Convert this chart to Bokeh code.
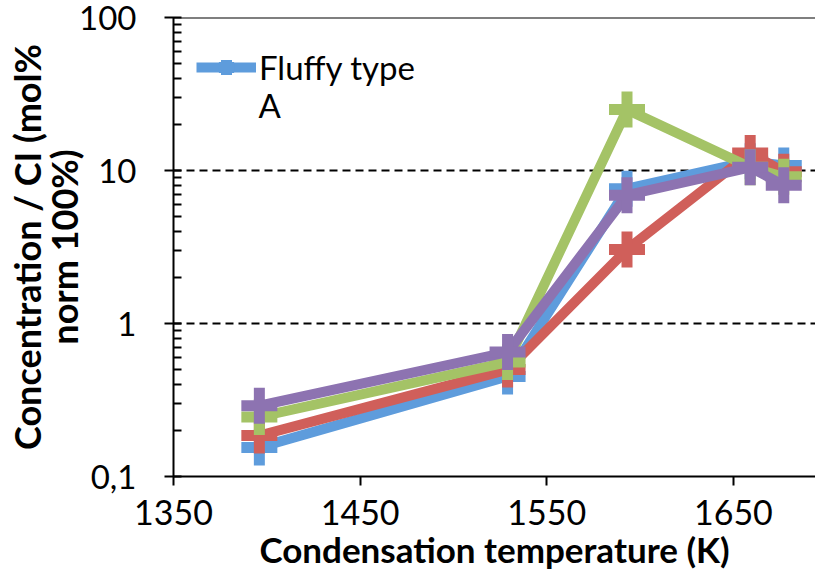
from bokeh.plotting import figure
from bokeh.models import FixedTicker, CustomJSTickFormatter, Legend, LegendItem, Span, Label
from bokeh.embed import file_html
from bokeh.resources import INLINE

temps = [1396, 1529, 1593, 1659, 1677]
blue_vals = [0.155, 0.45, 7.6, 11.5, 10.8]
red_vals = [0.185, 0.50, 3.05, 13.0, 9.8]
green_vals = [0.245, 0.56, 25.0, 10.5, 9.1]
purple_vals = [0.29, 0.65, 6.9, 10.5, 8.0]

x_ticks = [1350, 1450, 1550, 1650]
y_ticks = [0.1, 1, 10, 100]
y_minor = [0.2, 0.3, 0.4, 0.5, 0.6, 0.7, 0.8, 0.9,
           2, 3, 4, 5, 6, 7, 8, 9,
           20, 30, 40, 50, 60, 70, 80, 90]

series = [
    ("blue", blue_vals, "#5e9cdc"),
    ("red", red_vals, "#d05f5a"),
    ("green", green_vals, "#a4c366"),
    ("purple", purple_vals, "#8d73b1"),
]

FONT = "Lato"

p = figure(width=815, height=582, x_range=(1350, 1694), y_range=(0.1, 100),
           y_axis_type="log", output_backend="svg", toolbar_location=None,
           min_border_left=173, min_border_top=17, min_border_bottom=106,
           min_border_right=0)
p.outline_line_color = None
p.background_fill_color = "white"

renderers = {}
for name, vals, col in series:
    l = p.line(temps, vals, line_color=col, line_width=10, line_join="round")
    s = p.scatter(temps, vals, marker="cross", size=36, line_width=11,
                  line_color=col)
    renderers[name] = [l, s]

# grid
p.xgrid.grid_line_color = None
p.ygrid.ticker = FixedTicker(ticks=y_ticks)
p.ygrid.grid_line_color = "black"
p.ygrid.grid_line_width = 2
p.ygrid.grid_line_dash = "8 5"
p.add_layout(Span(location=100, dimension="width", line_color="black", line_width=2))

# x axis
xa = p.xaxis[0]
xa.ticker = FixedTicker(ticks=x_ticks)
xa.axis_line_width = 2
xa.axis_line_color = "black"
xa.major_tick_line_width = 2
xa.major_tick_in = 0
xa.major_tick_out = 9
xa.minor_tick_line_color = None
xa.major_label_text_font = FONT
xa.major_label_text_font_size = "34px"
xa.major_label_text_color = "black"
xa.major_label_standoff = 14
xa.axis_label = "Condensation temperature (K)"
xa.axis_label_text_font = FONT
xa.axis_label_text_font_style = "bold"
xa.axis_label_text_font_size = "35px"
xa.axis_label_text_color = "black"
xa.axis_label_standoff = 0

# y axis
ya = p.yaxis[0]
ya.ticker = FixedTicker(ticks=y_ticks, minor_ticks=y_minor)
ya.formatter = CustomJSTickFormatter(code="return String(tick).replace('.', ',');")
ya.axis_line_width = 2
ya.axis_line_color = "black"
ya.major_tick_line_width = 2
ya.major_tick_in = 8
ya.major_tick_out = 9
ya.minor_tick_line_width = 2
ya.minor_tick_line_color = "black"
ya.minor_tick_in = 8
ya.minor_tick_out = 0
ya.major_label_text_font = FONT
ya.major_label_text_font_size = "33px"
ya.major_label_text_color = "black"
ya.major_label_standoff = 28
ya.axis_label = "Concentration / CI (mol%\nnorm 100%)"
ya.axis_label_text_font = FONT
ya.axis_label_text_font_style = "bold"
ya.axis_label_text_font_size = "36px"
ya.axis_label_text_line_height = 0.84
ya.axis_label_text_color = "black"
ya.axis_label_standoff = -10

legend = Legend(items=[LegendItem(label="Fluffy type", renderers=renderers["blue"])],
                location=(23, 389), margin=0, padding=8,
                label_text_font=FONT, label_text_font_size="33px",
                label_text_color="black", label_height=38,
                glyph_width=60, glyph_height=38, label_standoff=3,
                border_line_color=None, background_fill_alpha=0)
p.add_layout(legend)
p.add_layout(Label(x=85, y=352, x_units="screen", y_units="screen", text="A",
                   text_font=FONT, text_font_size="33px", text_color="black"))

open("out.html", "w").write(file_html(p, INLINE))
